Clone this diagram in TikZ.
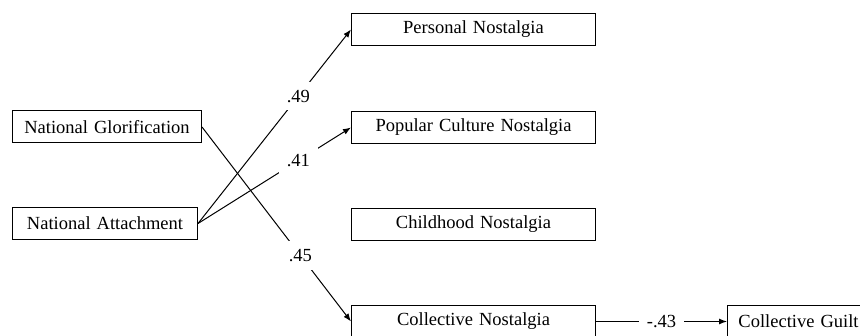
\documentclass[tikz,border=0pt]{standalone}
\usepackage{fontspec}
\setmainfont[WordSpace={1.3}]{Liberation Serif}
\usetikzlibrary{positioning}
\usetikzlibrary{arrows.meta}
\tikzset{>={Latex[width=6pt,length=8pt]}}

\begin{document}
\begin{tikzpicture}[x=1pt, y=-1pt, font=\fontsize{18.5}{21}\selectfont, box/.style={draw=black, line width=1pt, minimum height=32pt, inner sep=0pt}, midbox/.style={box, minimum width=244pt}, weight/.style={fill=white, inner sep=8pt}]
    \useasboundingbox (0,0) rectangle (860,336);
    
    %Nodes
    \node[box, minimum width=189pt, anchor=west](glorification) at (12,127) {National Glorification};
    \node[box, minimum width=185pt, anchor=west](attachment) at (12,223.5) {National Attachment};
    \node[midbox, anchor=west](personal) at (351,29.5) {Personal Nostalgia};
    \node[midbox](popular)[below=65pt of personal]{Popular Culture Nostalgia};
    \node[midbox](childhood)[below=64pt of popular]{Childhood Nostalgia};
    \node[midbox](collective)[below=64pt of childhood]{Collective Nostalgia};
    \node[box, minimum width=142pt](guilt)[right=131pt of collective]{Collective Guilt};
    
    %Lines
    \draw[->, line width=1pt] (attachment.east) -- node[weight, pos=0.656]{.49} (personal.west);
    \draw[->, line width=1pt] (attachment.east) -- node[weight, pos=0.656]{.41} (popular.west);
    \draw[->, line width=1pt] (glorification.east) -- node[weight, pos=0.66]{.45} (collective.west);
    \draw[->, line width=1pt] (collective.east) -- node[weight]{-.43} (guilt.west);
    
\end{tikzpicture}
\end{document}
